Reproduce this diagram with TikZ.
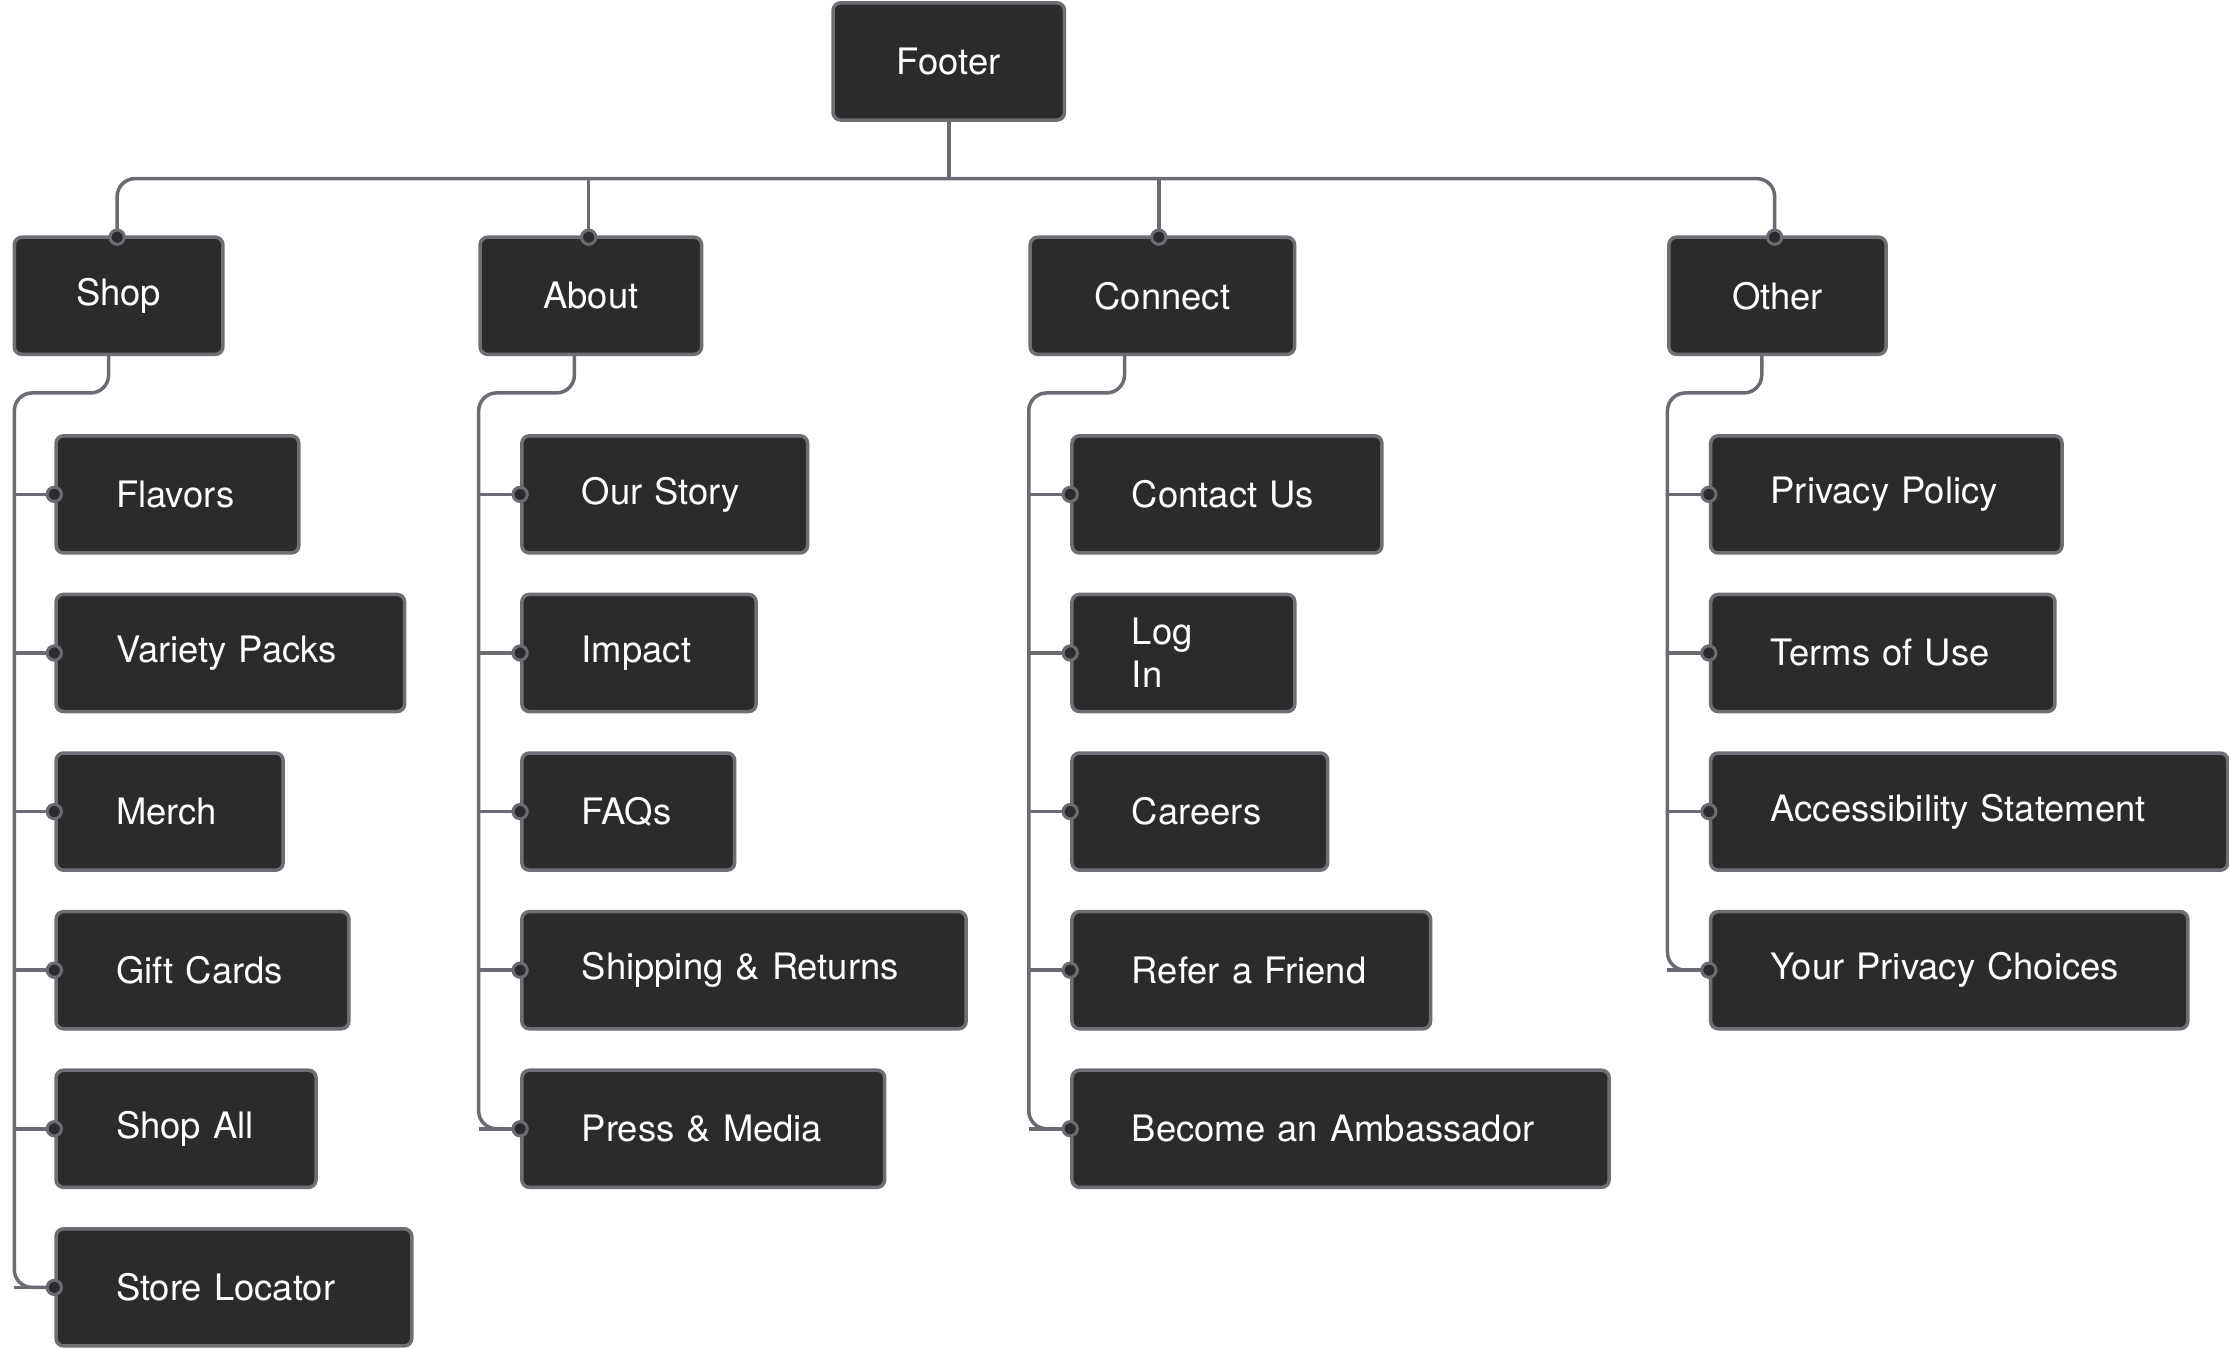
\documentclass[tikz,border=0pt]{standalone}
\usepackage{fontspec}
\setmainfont{TeX Gyre Heros}
\begin{document}
\begin{tikzpicture}[x=0.02cm,y=-0.02cm,
  box/.style={draw=boxline,fill=boxfill,line width=1.4pt,rounded corners=3pt,text=white,
    font=\fontsize{14.5}{17}\selectfont,minimum height=1.64cm,inner ysep=0pt},
  child/.style={box,anchor=west,inner xsep=0.84cm,text width=#1cm,align=left},
  conn/.style={draw=wire,line width=1.4pt,rounded corners=0.25cm},
  dot/.style={circle,fill=boxfill,draw=wire,line width=1.2pt,minimum size=0.2cm,inner sep=0pt}]
\definecolor{boxfill}{HTML}{2B2B2B}
\definecolor{boxline}{HTML}{6E6E75}
\definecolor{wire}{HTML}{6B6B73}
\useasboundingbox (0,0) rectangle (1560,943);
\node[box,minimum width=3.24cm] (footer) at (664,43) {Footer};
\node[box,minimum width=2.92cm] (shop) at (83,207) {Shop};
\node[box,minimum width=3.1cm] (about) at (413.5,207) {About};
\node[box,minimum width=3.7cm] (connect) at (813.5,207) {Connect};
\node[box,minimum width=3.04cm] (other) at (1244,207) {Other};
% bus
\draw[conn] (footer.south) -- (664,125);
\draw[conn] (82,166) -- (82,125) -- (1242,125) -- (1242,166);
\draw[conn] (412,125) -- (412,166);
\draw[conn] (811,125) -- (811,166);
\foreach \x in {82,412,811,1242} \node[dot] at (\x,166) {};
% children
\foreach \px/\tx/\cx/\list in {
  76/10/38/{Flavors/1.72,Variety Packs/3.2,Merch/1.5,Gift Cards/2.42,Shop All/1.96,Store Locator/3.3},
  402/335/364/{Our Story/2.32,Impact/1.6,FAQs/1.3,Shipping \& Returns/4.54,Press \& Media/3.4},
  787/720/749/{Contact Us/2.66,Log In/1.44,Careers/1.9,Refer a Friend/3.34,Become an Ambassador/5.84},
  1233/1167/1196/{Privacy Policy/3.24,Terms of Use/3.14,Accessibility Statement/5.56,Your Privacy Choices/5.0}}{
  \foreach \t/\w [count=\i] in \list {
    \pgfmathsetmacro\yy{346+111*(\i-1)}
    \node[child=\w] (c\px-\i) at (\cx,\yy) {\t};
    \draw[conn] (\tx,\yy) -- (c\px-\i.west);
    \xdef\lastY{\yy}
  }
  \draw[conn] (\px,248) -- (\px,275) -- (\tx,275) -- (\tx,\lastY) -- (\cx,\lastY);
  \foreach \t/\w [count=\i] in \list {
    \node[dot] at (c\px-\i.west) {};
  }
}
\end{tikzpicture}
\end{document}
